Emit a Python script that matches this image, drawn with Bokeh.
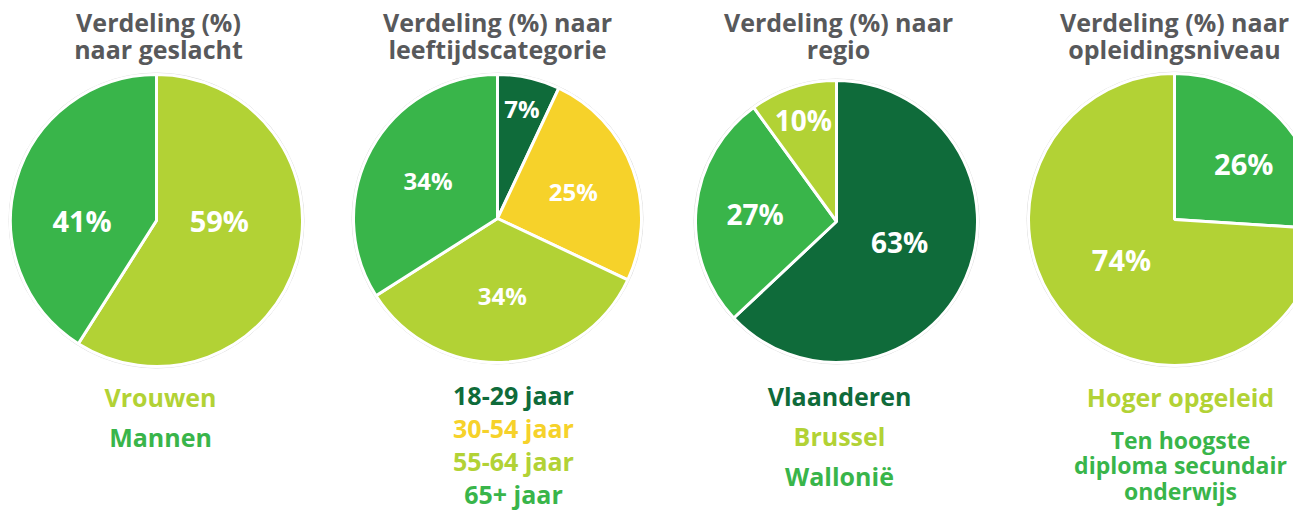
import math
from bokeh.plotting import figure
from bokeh.models import ColumnDataSource, Range1d
from bokeh.core.properties import value
from bokeh.embed import file_html
from bokeh.resources import INLINE

# ---------------- data ----------------
gender_labels = ["Vrouwen", "Mannen"]
gender_values = [59, 41]

age_labels = ["18-29 jaar", "30-54 jaar", "55-64 jaar", "65+ jaar"]
age_values = [7, 25, 34, 34]

region_labels = ["Vlaanderen", "Wallonië", "Brussel"]
region_values = [63, 27, 10]
region_legend_order = ["Vlaanderen", "Brussel", "Wallonië"]

edu_labels = ["Ten hoogste\ndiploma secundair\nonderwijs", "Hoger opgeleid"]
edu_values = [26, 74]
edu_legend_order = ["Hoger opgeleid", "Ten hoogste\ndiploma secundair\nonderwijs"]

titles = ["Verdeling (%)\nnaar geslacht",
          "Verdeling (%) naar\nleeftijdscategorie",
          "Verdeling (%) naar\nregio",
          "Verdeling (%) naar\nopleidingsniveau"]

# ---------------- style ----------------
LIGHT = "#b2d235"
MED = "#39b54a"
DARK = "#0f6b3a"
YELLOW = "#f6d22a"
GRAY = "#58595b"
FONT = "Open Sans"

W, H = 1293, 511
REF_H = 527


def py(v):
    # picture pixel y (from top) -> data y
    return REF_H - v


p = figure(width=W, height=H, output_backend="svg", toolbar_location=None,
           x_range=Range1d(0, W), y_range=Range1d(REF_H - H, REF_H),
           min_border=0, outline_line_color=None)
p.axis.visible = False
p.grid.visible = False
p.background_fill_color = "white"

# layout: centre, radius, label placement (angle clockwise from top in deg, or None = mid), radius fraction
pies = [
    dict(labels=gender_labels, values=gender_values, colors=[LIGHT, MED],
         cx=156, cy=220, r=146, lab_a=[90, 270], lab_r=[0.43, 0.51], lab_fs="29px",
         legend=gender_labels, lx=160, ly0=396, lsp=40, title=titles[0], tx=158),
    dict(labels=age_labels, values=age_values, colors=[DARK, YELLOW, LIGHT, MED],
         cx=497, cy=218, r=144, lab_a=[None] * 4, lab_r=[0.78, 0.56, 0.535, 0.55],
         lab_fs="24px", legend=age_labels, lx=513, ly0=394, lsp=33,
         title=titles[1], tx=497),
    dict(labels=region_labels, values=region_values, colors=[DARK, MED, LIGHT],
         cx=836, cy=221, r=141, lab_a=[108, None, None], lab_r=[0.47, 0.58, 0.76],
         lab_fs="28px", legend=region_legend_order, lx=839, ly0=395, lsp=40,
         title=titles[2], tx=838),
    dict(labels=edu_labels, values=edu_values, colors=[MED, LIGHT],
         cx=1174, cy=219, r=146, lab_a=[51, 233], lab_r=[0.61, 0.455],
         lab_fs="29px", legend=edu_legend_order, lx=1180, ly0=396, lsp=44,
         title=titles[3], tx=1174),
]

for pie in pies:
    vals = pie["values"]
    tot = float(sum(vals))
    starts, ends, lx, ly, txt = [], [], [], [], []
    acc = 0.0
    for v, la, lr in zip(vals, pie["lab_a"], pie["lab_r"]):
        a0 = acc / tot * 2 * math.pi
        a1 = (acc + v) / tot * 2 * math.pi
        starts.append(math.pi / 2 - a0)
        ends.append(math.pi / 2 - a1)
        mid = (a0 + a1) / 2 if la is None else math.radians(la)
        lx.append(pie["cx"] + lr * pie["r"] * math.sin(mid))
        ly.append(py(pie["cy"]) + lr * pie["r"] * math.cos(mid))
        txt.append(f"{v}%")
        acc += v
    cx, cy = pie["cx"], py(pie["cy"])
    src = ColumnDataSource(dict(start=starts, end=ends, color=pie["colors"],
                                x=[cx] * len(vals), y=[cy] * len(vals)))
    # faint outer ring
    p.circle(x=[cx], y=[cy], radius=pie["r"] + 1.5, fill_color=None,
             line_color="#dcdcdc", line_width=1)
    p.wedge(x="x", y="y", radius=pie["r"], start_angle="start", end_angle="end",
            direction="clock", fill_color="color", line_color="white",
            line_width=3, source=src)
    p.text(x=lx, y=ly, text=txt, text_color="white", text_font=value(FONT),
           text_font_style="bold", text_font_size=pie["lab_fs"], text_align="center",
           text_baseline="middle")
    # title
    p.text(x=[pie["tx"]], y=[py(4)], text=[pie["title"]], text_color=GRAY,
           text_font=value(FONT), text_font_style="bold", text_font_size="25px",
           text_align="center", text_baseline="top", text_line_height=0.82)
    # legend
    col_of = dict(zip(pie["labels"], pie["colors"]))
    for i, lab in enumerate(pie["legend"]):
        yc = pie["ly0"] + i * pie["lsp"]
        if "\n" in lab:
            p.text(x=[pie["lx"]], y=[py(yc - 17)], text=[lab], text_color=col_of[lab],
                   text_font=value(FONT), text_font_style="bold",
                   text_font_size="23px", text_align="center", text_baseline="top",
                   text_line_height=0.8)
        else:
            p.text(x=[pie["lx"]], y=[py(yc)], text=[lab], text_color=col_of[lab],
                   text_font=value(FONT), text_font_style="bold",
                   text_font_size="25px", text_align="center", text_baseline="middle")

open("out.html", "w").write(file_html(p, INLINE))
